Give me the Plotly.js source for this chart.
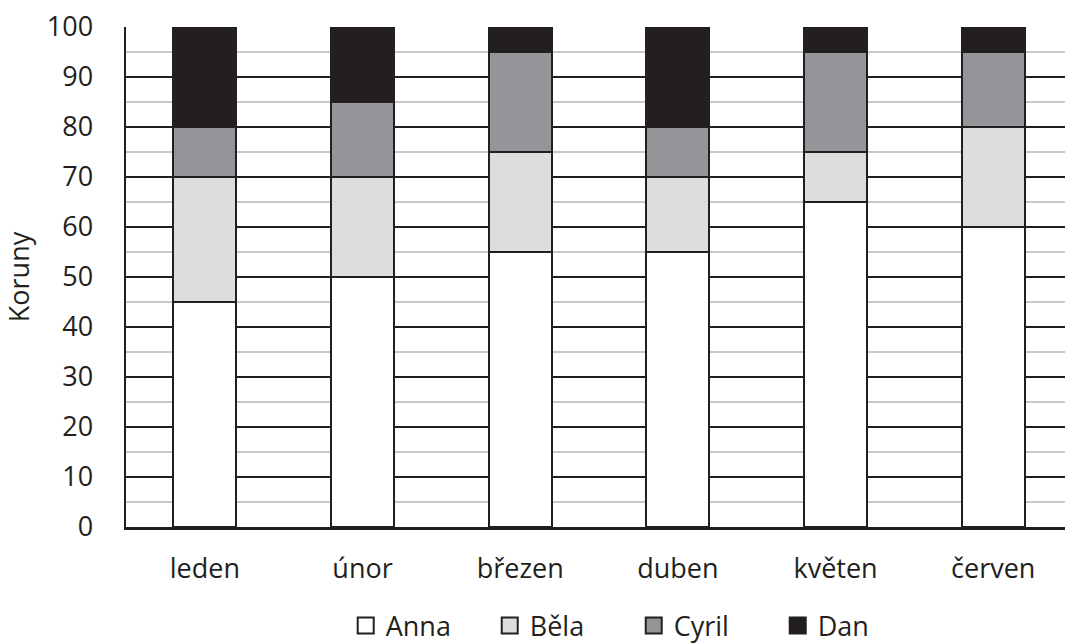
<!DOCTYPE html>
<html><head><meta charset="utf-8">
<script src="https://cdn.plot.ly/plotly-3.0.1.min.js"></script>
<style>html,body{margin:0;padding:0;background:#fff}</style>
</head><body>
<div id="chart" style="width:1065px;height:644px"></div>
<script>
const months = ["leden","únor","březen","duben","květen","červen"];
const anna  = [45, 50, 55, 55, 65, 60];
const bela  = [25, 20, 20, 15, 10, 20];
const cyril = [10, 15, 20, 10, 20, 15];
const dan   = [20, 15, 5, 20, 5, 5];
const seriesNames = ["Anna","Běla","Cyril","Dan"];
const seriesColors = ["#ffffff","#dcddde","#939598","#231f20"];
const seriesData = [anna, bela, cyril, dan];

const FONT = "'Open Sans', sans-serif";
const INK = "#231f20";
const traces = seriesData.map((vals, i) => ({
  type: "bar",
  name: seriesNames[i],
  x: months,
  y: vals,
  width: 0.4,
  showlegend: false,
  marker: {color: seriesColors[i], line: {color: INK, width: 2}},
  hoverinfo: "skip"
}));
// legend-only entries (larger square swatches)
seriesNames.forEach((n, i) => traces.push({
  type: "scatter", mode: "markers", name: n, x: [null], y: [null],
  marker: {symbol: "square", size: 16, color: seriesColors[i], line: {color: INK, width: 2}},
  showlegend: true, hoverinfo: "skip"
}));

const layout = {
  width: 1065, height: 644,
  margin: {l: 126, r: 0, t: 27, b: 117, pad: 0, autoexpand: false},
  barmode: "stack",
  paper_bgcolor: "#fff", plot_bgcolor: "#fff",
  font: {family: FONT, size: 27, color: INK},
  showlegend: true,
  legend: {orientation: "h", x: 0.234, xanchor: "left", y: -0.198, yanchor: "middle",
           font: {family: FONT, size: 27, color: INK}, entrywidth: 99, itemwidth: 30,
           traceorder: "normal", bgcolor: "rgba(0,0,0,0)"},
  xaxis: {
    range: [-0.5, 5.455], type: "category", showgrid: false, zeroline: false,
    showline: true, linecolor: INK, linewidth: 3, ticks: "", ticklabelstandoff: 16,
    tickfont: {family: FONT, size: 27, color: INK}, fixedrange: true
  },
  yaxis: {
    range: [0, 100], dtick: 10, tick0: 0, showgrid: true, gridcolor: INK, gridwidth: 1.5,
    minor: {dtick: 5, tick0: 0, showgrid: true, gridcolor: "#c8c8c8", gridwidth: 1.5},
    zeroline: false, showline: true, linecolor: INK, linewidth: 2.5, ticks: "",
    ticklabelstandoff: 25,
    tickfont: {family: FONT, size: 27, color: INK},
    title: {text: "Koruny", font: {family: FONT, size: 27, color: INK}, standoff: 18},
    fixedrange: true
  }
};
Plotly.newPlot("chart", traces, layout, {displayModeBar: false, staticPlot: true});
</script>
</body></html>
